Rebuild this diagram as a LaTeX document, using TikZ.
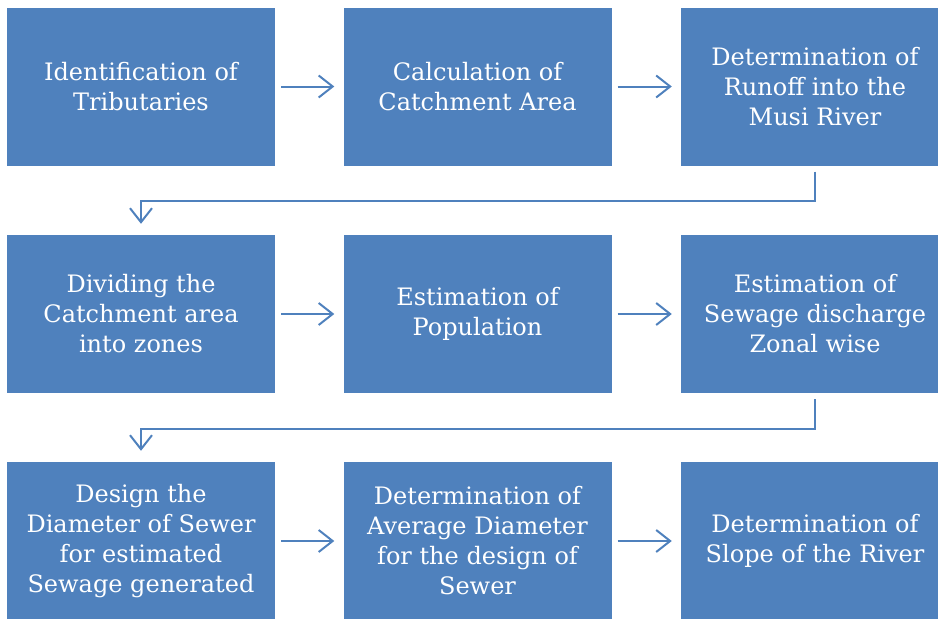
\documentclass[tikz,border=0pt]{standalone}
\usepackage{fontspec}
\setmainfont{DejaVu Serif}
\usetikzlibrary{arrows.meta}
\definecolor{boxblue}{HTML}{4F81BD}
\begin{document}
\begin{tikzpicture}[x=1pt,y=-1pt,
  box/.style={fill=boxblue,text=white,minimum width=268pt,minimum height=158pt,
    inner sep=0pt,align=center,font=\fontsize{24}{30}\selectfont},
  link/.style={draw=boxblue,line width=2pt,-{Straight Barb[length=14pt,width=22pt]}}]
\useasboundingbox (0,0) rectangle (938,619);
\clip (0,0) rectangle (938,619);
\node[box] (1) at (141,86.5) {Identification of\\Tributaries};
\node[box] (2) at (477.5,86.5) {Calculation of\\Catchment Area};
\node[box] (3) at (815,86.5) {Determination of\\Runoff into the\\Musi River};
\node[box] (4) at (141,314) {Dividing the\\Catchment area\\into zones};
\node[box] (5) at (477.5,314) {Estimation of\\Population};
\node[box] (6) at (815,314) {Estimation of\\Sewage discharge\\Zonal wise};
\node[box] (7) at (141,541) {Design the\\Diameter of Sewer\\for estimated\\Sewage generated};
\node[box] (8) at (477.5,541) {Determination of\\Average Diameter\\for the design of\\Sewer};
\node[box] (9) at (815,541) {Determination of\\Slope of the River};
\path[link,shorten <=6pt,shorten >=9pt] (1) -- (2);
\path[link,shorten <=6pt,shorten >=9pt] (2) -- (3);
\path[link,shorten <=6pt,shorten >=11pt] (3.south) -- ++(0,35.5) -| (4.north);
\path[link,shorten <=6pt,shorten >=9pt] (4) -- (5);
\path[link,shorten <=6pt,shorten >=9pt] (5) -- (6);
\path[link,shorten <=6pt,shorten >=11pt] (6.south) -- ++(0,35.5) -| (7.north);
\path[link,shorten <=6pt,shorten >=9pt] (7) -- (8);
\path[link,shorten <=6pt,shorten >=9pt] (8) -- (9);
\end{tikzpicture}
\end{document}
